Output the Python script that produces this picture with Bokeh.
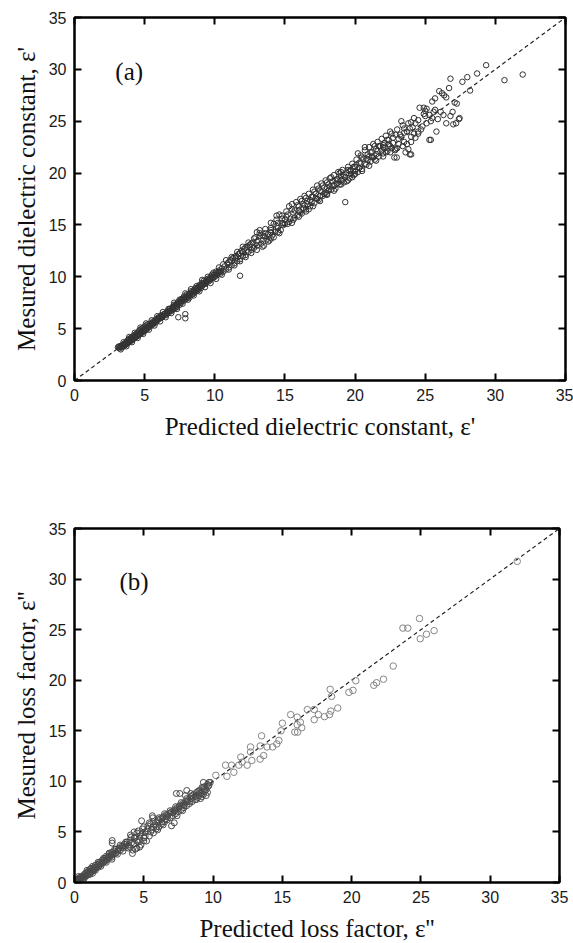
from bokeh.plotting import figure
from bokeh.layouts import column
from bokeh.models import Range1d, LinearAxis, Label, SingleIntervalTicker
from bokeh.embed import file_html
from bokeh.resources import INLINE

# ---------------- data ----------------
diag = [0, 35]

# panel (a): predicted vs measured dielectric constant
a_band_3_5 = [(3.1,3.2),(3.2,3.3),(3.2,3.1),(3.3,3.3),(3.4,3.4),(3.4,3.2),(3.5,3.5),(3.5,3.3),(3.6,3.6),(3.6,3.4),
              (3.7,3.5),(3.7,3.7),(3.8,3.6),(3.8,3.9),(3.9,3.7),(3.9,4.0),(4.0,3.8),(4.0,4.1),(4.1,3.9),(4.1,4.2),
              (4.2,4.0),(4.2,4.3),(4.3,4.1),(4.3,4.4),(4.4,4.2),(4.4,4.5),(4.5,4.3),(4.5,4.6),(4.6,4.4),(4.6,4.8),
              (4.7,4.5),(4.7,4.9),(4.8,4.6),(4.8,5.0),(4.9,4.7),(4.9,5.1),(5.0,4.8),(5.0,5.2),(5.1,4.9),(5.1,5.3),
              (3.15,3.25),(3.25,3.2),(3.35,3.35),(3.45,3.3),(3.55,3.45),(3.65,3.5),(3.75,3.65),(3.85,3.75),(3.95,3.85),
              (4.05,3.95),(4.15,4.05),(4.25,4.15),(4.35,4.3),(4.45,4.35),(4.55,4.5),(4.65,4.55),(4.75,4.7),(4.85,4.8),
              (4.95,4.9),(5.05,5.0)]
a_band_5_8 = [(5.2,5.0),(5.2,5.4),(5.3,5.2),(5.4,5.5),(5.4,5.2),(5.5,5.4),(5.6,5.7),(5.6,5.4),(5.7,5.6),(5.8,5.9),
              (5.8,5.6),(5.9,5.8),(6.0,6.1),(6.0,5.9),(6.1,6.0),(6.2,6.3),(6.3,6.2),(6.4,6.4),(6.5,6.3),(6.6,6.6),
              (6.7,6.5),(6.8,6.9),(6.9,6.7),(7.0,7.1),(7.0,6.8),(7.1,7.3),(7.2,7.0),(7.3,7.4),(7.3,7.1),(7.4,7.6),
              (7.5,7.3),(5.15,5.1),(5.25,5.25),(5.35,5.3),(5.45,5.45),(5.55,5.5),(5.65,5.6),(5.75,5.75),(5.85,5.8),
              (5.95,6.0),(6.05,6.0),(6.15,6.2),(6.25,6.1),(6.35,6.35),(6.45,6.45),(6.55,6.4),(6.65,6.7),(6.75,6.7),
              (6.85,6.8),(6.95,7.0),(7.05,6.9),(7.15,7.2),(7.25,7.2),(7.35,7.3),(7.45,7.5),(7.55,7.6),(7.65,7.7),
              (7.4,6.1),(7.9,6.4),(7.9,6.0)]
a_band_8_11 = [(7.6,7.8),(7.6,7.5),(7.7,7.9),(7.8,7.7),(7.8,8.1),(7.9,7.8),(8.0,8.3),(8.0,7.9),(8.1,8.1),(8.2,8.4),
               (8.2,8.0),(8.3,8.6),(8.4,8.3),(8.5,8.7),(8.5,8.4),(8.6,8.9),(8.7,8.6),(8.8,9.0),(8.8,8.7),(8.9,9.2),
               (9.0,8.9),(9.1,9.4),(9.1,9.1),(9.2,9.6),(9.3,9.3),(9.4,9.7),(9.4,9.4),(9.5,9.8),(9.6,9.6),(9.7,10.0),
               (9.7,9.7),(9.8,10.2),(9.9,9.9),(10.0,10.3),(10.0,10.0),(10.1,10.5),(10.2,10.2),(10.3,10.6),(10.4,10.3),
               (10.5,10.8),(7.75,7.9),(7.85,7.9),(7.95,8.1),(8.05,8.1),(8.15,8.3),(8.25,8.2),(8.35,8.5),(8.45,8.5),
               (8.55,8.6),(8.65,8.8),(8.75,8.8),(8.85,8.9),(8.95,9.1),(9.05,9.2),(9.15,9.3),(9.25,9.4),(9.35,9.5),
               (9.45,9.6),(9.55,9.7),(9.65,9.8),(9.75,9.9),(9.85,10.0),(9.95,10.2),(10.05,10.1),(10.15,10.3),
               (10.25,10.4),(10.35,10.5),(10.45,10.5),(11.8,10.1)]
a_band_thick = [(3.3,3.0),(3.5,3.7),(3.7,3.3),(3.9,4.2),(4.1,3.7),(4.3,4.6),(4.5,4.1),(4.7,5.1),(4.9,4.5),(5.1,5.5),
                (5.3,4.9),(5.5,5.8),(5.7,5.3),(5.9,6.2),(6.1,5.7),(6.3,6.6),(6.5,6.1),(6.7,6.9),(6.9,6.5),(7.1,7.5),
                (7.3,6.9),(7.5,7.8),(7.7,7.4),(7.9,8.4),(8.1,7.8),(8.3,8.8),(8.5,8.2),(8.7,9.1),(8.9,8.6),(9.1,9.7),
                (9.3,9.0),(9.5,10.0),(9.7,9.4),(9.9,10.4),(10.1,9.8),(10.3,10.9),(10.5,10.2)]
a_band_11_15 = [(10.6,10.5),(10.7,11.0),(10.8,10.7),(10.9,11.3),(11.0,10.9),(11.1,11.6),(11.2,11.1),(11.3,11.8),
                (11.4,11.3),(11.5,12.0),(11.6,11.5),(11.7,12.2),(11.8,11.7),(11.9,12.5),(12.0,12.0),(12.1,12.7),
                (12.2,12.1),(12.3,12.9),(12.4,12.4),(12.5,13.1),(12.6,12.6),(12.7,13.3),(12.8,12.8),(12.9,13.8),
                (13.0,13.0),(13.0,14.3),(13.1,13.5),(13.2,14.5),(13.3,13.2),(13.4,14.0),(13.5,13.0),(13.6,14.6),
                (13.7,13.6),(13.8,14.1),(13.9,13.5),(14.0,14.7),(14.1,14.0),(14.2,15.1),(14.3,14.3),(14.4,15.9),
                (14.5,14.7),(14.6,16.0),(14.7,14.5),(14.8,15.2),(14.9,15.0),(10.6,11.2),(11.0,11.4),(11.4,11.9),
                (11.8,12.3),(12.2,12.8),(12.6,13.2),(13.2,13.9),(13.6,14.2),(14.0,15.2),(14.4,14.9),(14.8,15.6),
                (14.0,14.3),(14.5,14.3),(10.8,11.6),(11.2,11.9),(11.6,12.4),(12.0,12.9),(12.4,13.3),(12.8,13.7),
                (13.2,14.2),(13.6,13.9),(14.0,14.5),(14.4,15.5),(14.8,15.9),(11.0,10.7),(11.4,11.1),(11.8,11.5),
                (12.2,11.9),(12.6,12.3),(13.0,12.6),(13.4,12.9),(13.8,13.4),(14.2,13.8),(14.6,14.2),(12.5,12.9),
                (13.5,13.9),(14.5,15.2),(13.0,13.4),(14.0,13.7),(12.0,12.4),(11.5,11.8)]
a_band_15_20 = [(15.0,15.5),(15.1,16.3),(15.2,15.1),(15.3,16.8),(15.4,15.6),(15.5,17.0),(15.6,15.5),(15.7,16.4),
                (15.8,17.2),(15.9,15.9),(16.0,16.8),(16.1,17.5),(16.2,16.1),(16.3,17.0),(16.4,17.8),(16.5,16.5),
                (16.6,17.3),(16.7,18.0),(16.8,16.8),(16.9,17.7),(17.0,18.4),(17.1,17.1),(17.2,18.0),(17.3,18.8),
                (17.4,17.4),(17.5,18.3),(17.6,19.0),(17.7,17.8),(17.8,18.6),(17.9,19.3),(18.0,18.0),(18.1,18.9),
                (18.2,19.5),(18.3,18.4),(18.4,19.2),(18.5,19.8),(18.6,18.5),(18.7,19.4),(18.8,20.1),(18.9,18.9),
                (19.0,19.7),(19.1,20.3),(19.2,19.1),(19.3,17.2),(19.4,20.0),(19.5,20.6),(19.6,19.5),(19.7,20.3),
                (19.8,20.9),(19.9,19.8),(15.2,16.0),(15.6,16.2),(16.0,16.4),(16.4,16.9),(16.8,17.4),(17.2,17.6),
                (17.6,18.2),(18.0,18.6),(18.4,18.8),(18.8,19.4),(19.2,19.8),(19.6,20.2),(15.0,15.1),(15.5,15.2),
                (16.0,15.8),(16.5,16.3),(17.0,16.8),(17.5,17.3),(18.0,17.9),(18.5,18.3),(19.0,18.9),(19.5,19.3),
                (15.1,15.8),(15.3,15.3),(15.5,16.5),(15.7,15.7),(15.9,16.9),(16.1,16.2),(16.3,16.6),(16.5,17.6),
                (16.7,16.5),(16.9,17.2),(17.1,18.2),(17.3,17.5),(17.5,17.8),(17.7,18.8),(17.9,18.1),(18.1,18.3),
                (18.3,19.6),(18.5,18.8),(18.7,19.0),(18.9,20.0),(19.1,19.4),(19.3,19.6),(19.5,20.3),(19.7,19.9),
                (19.9,20.6),(16.2,17.3),(16.6,17.0),(17.4,18.5),(17.8,18.0),(18.2,18.7),(18.6,19.3),(19.0,20.1),
                (19.4,19.2),(19.8,19.6),(17.0,17.7),(18.0,19.1),(19.0,19.3)]
a_band_20_32 = [(20.0,20.6),(20.1,21.3),(20.2,20.1),(20.3,21.0),(20.4,21.7),(20.5,20.4),(20.6,21.4),(20.7,22.2),
                (20.8,20.8),(20.9,21.8),(21.0,22.5),(21.1,21.1),(21.2,22.0),(21.3,22.8),(21.4,21.3),(21.5,22.3),
                (21.6,23.0),(21.7,21.6),(21.8,22.6),(21.9,23.3),(22.0,21.9),(22.1,22.9),(22.2,23.6),(22.3,22.1),
                (22.4,23.2),(22.5,24.0),(22.6,22.4),(22.7,23.4),(22.8,21.5),(22.9,22.3),(23.0,24.2),(23.1,22.8),
                (23.2,23.7),(23.3,25.0),(23.4,22.6),(23.5,24.3),(23.6,22.0),(23.8,24.8),(23.9,21.8),(24.0,23.0),
                (24.0,24.9),(24.2,25.3),(24.3,23.4),(24.5,24.0),(24.6,26.3),(24.8,24.5),(24.9,26.3),(25.1,26.2),
                (25.3,23.2),(25.4,25.0),(25.5,26.9),(25.6,25.9),(25.7,27.2),(25.8,24.0),(26.0,27.9),(26.1,25.9),
                (26.2,27.7),(26.3,25.6),(26.35,27.5),(26.5,24.8),(26.7,28.2),(26.8,25.5),(26.8,29.1),(26.95,25.9),
                (27.1,26.8),(27.25,26.7),(27.45,25.3),(27.0,24.7),(27.2,24.8),(27.65,28.8),(28.0,29.25),(28.2,27.96),
                (28.7,29.6),(29.34,30.4),(30.65,28.96),(31.95,29.5),(26.5,27.3),(27.4,25.2),(25.0,25.5),(23.7,24.0),
                (22.0,22.5),(20.0,20.2),(20.4,20.9),(20.8,21.4),(21.2,21.6),(21.6,22.1),(22.0,22.7),(22.4,22.8),
                (20.0,19.9),(20.5,20.2),(21.0,20.7),(21.5,21.2),(22.0,21.6),(22.5,22.0),(23.0,22.4),(23.5,23.0),
                (24.0,23.5),(24.5,23.8),(20.7,22.5),(22.85,22.2),(22.97,21.5),(23.8,22.3),(24.0,21.8),(25.4,23.2),
                (20.1,20.8),(20.3,20.5),(20.5,21.5),(20.7,20.9),(20.9,21.3),(21.1,22.0),(21.3,21.5),(21.5,21.8),
                (21.7,22.6),(21.9,22.2),(22.1,22.4),(22.3,23.2),(22.5,22.6),(22.7,22.9),(22.9,23.7),(23.1,23.3),
                (23.3,23.5),(23.5,23.9),(23.7,22.8),(23.9,24.3),(24.1,24.4),(24.3,24.8),(24.5,25.1),(24.7,24.2),
                (24.9,25.7),(25.1,24.8),(25.3,25.6),(25.5,25.3),(25.7,26.1),(25.9,25.2),(20.2,21.9),(21.0,21.6),
                (21.4,22.6),(22.2,22.0),(22.6,23.8),(23.4,24.6),(24.2,23.8),(25.0,26.0)]

# panel (b): predicted vs measured loss factor
b_band_0_3 = [(0.1,0.1),(0.2,0.15),(0.2,0.3),(0.3,0.2),(0.3,0.4),(0.4,0.3),(0.4,0.5),(0.5,0.4),(0.5,0.6),(0.6,0.5),
              (0.6,0.3),(0.7,0.6),(0.7,0.8),(0.8,0.6),(0.8,0.9),(0.9,0.7),(0.9,1.0),(1.0,0.8),(1.0,1.1),(1.1,0.9),
              (1.1,1.3),(1.2,1.0),(1.2,1.4),(1.3,1.2),(1.3,0.9),(1.4,1.5),(1.4,1.2),(1.5,1.4),(1.5,1.7),(1.6,1.5),
              (1.7,1.8),(1.7,1.5),(1.8,1.7),(1.8,2.0),(1.9,1.8),(2.0,2.2),(2.0,1.9),(2.1,2.0),(2.2,2.4),(2.2,2.1),
              (2.3,2.6),(2.3,2.2),(2.4,2.5),(2.5,2.8),(2.5,2.4),(2.6,2.7),(2.7,3.0),(2.7,2.5),(2.72,4.15),(2.72,3.9),
              (2.8,2.8),(2.9,3.1),(0.15,0.2),(0.35,0.3),(0.55,0.5),(0.75,0.7),(0.95,0.85),(1.15,1.1),(1.35,1.3),
              (1.55,1.5),(1.75,1.65),(1.95,2.0),(2.15,2.2),(2.35,2.35),(2.55,2.6),(2.75,2.7),(2.95,2.9),
              (0.3,0.6),(0.5,0.3),(0.7,0.4),(0.9,1.2),(1.1,0.8),(1.3,1.6),(1.5,1.2),(1.7,2.0),(1.9,1.6),(2.1,2.4),
              (2.3,2.0),(2.5,2.9),(2.7,2.3),(2.9,3.3)]
b_band_3_10 = [(3.0,2.9),(3.0,3.3),(3.1,3.1),(3.2,3.4),(3.3,3.2),(3.4,3.6),(3.5,3.4),(3.6,3.8),(3.7,3.6),(3.8,4.0),
               (3.9,3.7),(4.0,4.2),(4.0,3.5),(4.04,4.7),(4.1,3.9),(4.18,2.87),(4.2,3.2),(4.3,4.4),(4.3,5.0),(4.44,4.5),
               (4.5,3.4),(4.5,4.1),(4.6,5.1),(4.7,4.6),(4.8,3.7),(4.84,6.1),(4.9,4.9),(5.0,4.4),(5.0,5.5),(5.1,5.0),
               (5.2,4.1),(5.3,5.3),(5.4,4.6),(5.5,5.8),(5.6,5.2),(5.62,6.6),(5.65,6.4),(5.7,4.9),(5.8,5.7),(5.9,5.3),
               (6.0,6.0),(6.1,5.5),(6.2,6.3),(6.3,5.8),(6.4,6.5),(6.5,6.0),(6.6,6.7),(6.7,6.2),(6.8,6.8),(6.9,6.4),
               (7.0,7.0),(7.0,5.6),(7.1,6.6),(7.2,5.9),(7.2,7.2),(7.3,6.8),(7.35,8.8),(7.4,7.4),(7.5,7.0),(7.6,8.8),
               (7.6,7.6),(7.7,7.2),(7.8,7.8),(7.9,7.4),(8.0,8.0),(8.1,9.1),(8.1,7.6),(8.2,8.2),(8.3,7.8),(8.4,8.5),
               (8.5,8.0),(8.6,8.7),(8.7,8.2),(8.8,8.9),(8.9,8.4),(9.0,9.1),(9.0,8.6),(9.1,8.3),(9.2,9.4),(9.3,9.9),
               (9.3,8.7),(9.4,9.5),(9.5,8.6),(9.6,9.7),(9.6,8.9),(9.7,9.9),(3.15,3.2),(3.45,3.5),(3.75,3.8),
               (6.05,6.2),(6.35,6.4),(6.65,6.6),(6.95,6.9),(7.25,7.1),(7.55,7.5),(7.85,7.7),(8.15,8.0),(8.45,8.3),
               (8.75,8.6),(9.05,8.9),(9.35,9.2),(9.65,9.5),(3.1,2.8),(3.3,3.7),(3.5,3.1),(3.7,4.0),(3.9,3.4),
               (4.1,4.5),(4.3,3.8),(4.5,4.9),(4.7,4.2),(4.9,5.3),(5.1,4.6),(5.3,5.6),(5.5,5.0),(5.7,6.0),(5.9,5.5),
               (6.1,6.4),(6.3,6.0),(6.5,6.8),(6.7,6.5),(6.9,7.1),(7.1,6.9),(7.3,7.5),(7.5,7.3),(7.7,7.9),(7.9,7.6),
               (8.1,8.3),(8.3,8.0),(8.5,8.6),(8.7,8.5),(8.9,9.0),(9.1,8.8),(9.3,9.4),(9.5,9.2),(9.7,9.6),(9.8,9.9),
               (8.0,8.6),(8.4,8.8),(8.8,8.2),(9.2,8.5),(9.4,9.0),(6.0,5.2),(6.4,5.7),(5.0,4.1),(4.6,4.0),(4.4,3.3),
               (4.7,3.5),(5.4,5.9),(6.6,6.3),(7.4,6.6),(7.8,7.1)]
b_sparse = [(10.2,10.6),(10.9,11.6),(11.0,10.5),(11.33,11.6),(11.5,10.9),(11.86,11.6),(12.0,12.4),(12.1,11.9),
            (12.46,11.6),(12.7,12.9),(12.8,12.07),(12.7,13.4),(13.4,12.2),(13.65,12.55),(13.4,13.5),(13.5,14.5),
            (13.9,13.4),(14.3,13.4),(14.6,13.7),(14.75,14.05),(15.0,15.75),(14.9,15.0),(15.6,16.6),(16.07,16.35),
            (16.3,15.85),(16.07,15.6),(16.4,15.3),(15.9,14.87),(16.1,14.87),(16.8,17.1),(17.3,17.1),(17.3,16.1),
            (17.6,16.6),(18.04,16.4),(18.4,16.6),(18.5,16.95),(19.0,17.25),(18.45,19.1),(18.55,18.4),(19.8,18.8),
            (20.1,19.0),(20.3,19.95),(21.6,19.5),(21.8,19.75),(22.3,20.1),(23.0,21.4),(23.7,25.15),(24.05,25.15),
            (24.9,26.1),(24.95,24.1),(25.4,24.55),(25.95,24.9),(31.95,31.75)]

a_points = a_band_3_5 + a_band_5_8 + a_band_8_11 + a_band_thick + a_band_11_15 + a_band_15_20 + a_band_20_32
b_dense_points = b_band_0_3 + b_band_3_10
a_pred = [p[0] for p in a_points]
a_meas = [p[1] for p in a_points]
b_pred_dense = [p[0] for p in b_dense_points]
b_meas_dense = [p[1] for p in b_dense_points]
b_pred_sparse = [p[0] for p in b_sparse]
b_meas_sparse = [p[1] for p in b_sparse]

TICK_FONT = "Liberation Sans"
TITLE_FONT = "Liberation Serif"


def style_axis(ax, show_labels=True):
    ax.ticker = SingleIntervalTicker(interval=5)
    ax.axis_line_width = 2
    ax.axis_line_color = "black"
    ax.major_tick_in = 7
    ax.major_tick_out = 0
    ax.major_tick_line_width = 2
    ax.major_tick_line_color = "black"
    ax.minor_tick_line_color = None
    ax.major_label_text_font = TICK_FONT
    if show_labels:
        ax.major_label_text_color = "#1a1a1a"
        ax.major_label_text_font_size = "16px"
        ax.major_label_standoff = 4
    else:
        ax.major_label_text_color = None
        ax.major_label_text_font_size = "0px"
        ax.major_label_standoff = 0
    ax.axis_label_text_font = TITLE_FONT
    ax.axis_label_text_font_size = "25px"
    ax.axis_label_text_font_style = "normal"
    ax.axis_label_text_color = "#111111"


def make_panel(xlabel, ylabel, tag, tag_x, tag_y, bl, br, bt, bb, fw, fh):
    p = figure(frame_width=fw, frame_height=fh, x_range=Range1d(0, 35), y_range=Range1d(0, 35),
               output_backend="svg", toolbar_location=None,
               min_border_left=bl, min_border_right=br, min_border_top=bt, min_border_bottom=bb)
    p.xgrid.visible = False
    p.ygrid.visible = False
    p.outline_line_color = "black"
    p.outline_line_width = 2
    style_axis(p.xaxis[0])
    style_axis(p.yaxis[0])
    p.xaxis[0].axis_label = xlabel
    p.yaxis[0].axis_label = ylabel
    p.xaxis[0].axis_label_standoff = 9
    p.yaxis[0].axis_label_standoff = 6
    top = LinearAxis()
    right = LinearAxis()
    style_axis(top, False)
    style_axis(right, False)
    p.add_layout(top, "above")
    p.add_layout(right, "right")
    p.line(diag, diag, line_color="#222222", line_width=1.2, line_dash="4 3")
    p.add_layout(Label(x=tag_x, y=tag_y, text=tag, text_font=TITLE_FONT, text_font_size="25px",
                       text_align="center", text_baseline="middle", text_color="#111111"))
    return p


pa = make_panel("Predicted dielectric constant, \u03b5'", "Mesured dielectric constant, \u03b5'",
                "(a)", 3.9, 29.8, 71, 11, 17, 72, 491, 363)
pa.scatter(a_pred, a_meas, marker="circle", size=5.5, fill_color=None, line_color="#333333", line_width=1)

pb = make_panel("Predicted loss factor, \u03b5''", "Mesured loss factor, \u03b5''",
                "(b)", 4.3, 29.8, 74, 14, 76, 61, 485, 354)
pb.scatter(b_pred_dense, b_meas_dense, marker="circle", size=6, fill_color=None, line_color="#4a4a4a", line_width=1)
pb.scatter(b_pred_sparse, b_meas_sparse, marker="circle", size=6.5, fill_color=None, line_color="#858585", line_width=1)

layout = column(pa, pb, spacing=0)
open("out.html", "w").write(file_html(layout, INLINE))
